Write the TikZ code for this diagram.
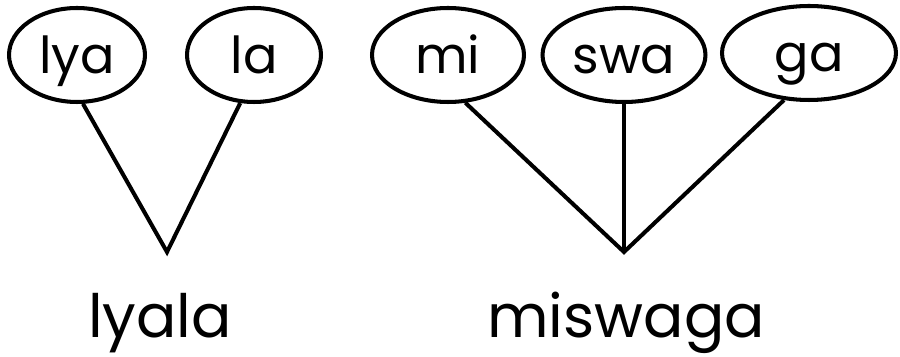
\documentclass[tikz,border=0pt]{standalone}
\usepackage{fontspec}
\setmainfont{Poppins}
\usetikzlibrary{shapes.geometric}
\tikzset{
  syll/.style={draw, ellipse, line width=2.3pt, inner sep=0pt,
    minimum height=1.88cm, text height=24pt, text depth=3.5pt,
    font=\fontsize{29}{29}\selectfont},
  word/.style={anchor=base, inner sep=0pt, font=\fontsize{34}{34}\selectfont},
  link/.style={line width=2.3pt, line join=miter},
}
\begin{document}
\begin{tikzpicture}[x=0.02cm, y=-0.02cm]
  \useasboundingbox (0,0) rectangle (900,357);

  % lyala
  \node[syll, minimum width=2.72cm] (lya) at (77,55)  {lya};
  \node[syll, minimum width=2.68cm] (la)  at (254,55) {la};
  \coordinate (v1) at (167,252);
  \node[word] (lyala) at (160,338) {lyala};
  \draw[link] (lya.277) -- (v1) -- (la.254);

  % miswaga
  \node[syll, minimum width=3.04cm] (mi)  at (448,55) {mi};
  \node[syll, minimum width=3.26cm] (swa) at (624,55) {swa};
  \node[syll, minimum width=3.48cm] (ga)  at (809,53) {ga};
  \coordinate (v2) at (624,252);
  \node[word] (miswaga) at (626,338) {miswaga};
  \draw[link] (mi.290) -- (v2) -- (ga.242);
  \draw[link] (swa.south) -- (v2);
\end{tikzpicture}
\end{document}
